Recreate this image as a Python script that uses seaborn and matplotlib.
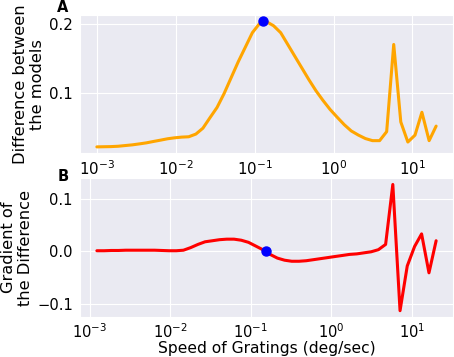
import numpy as np
import pandas as pd
import matplotlib
matplotlib.use('Agg')
import matplotlib.pyplot as plt
import seaborn as sns

# speeds of the gratings (deg/sec), log spaced
speeds = [0.00100, 0.00123, 0.00151, 0.00186, 0.00228, 0.00281, 0.00345, 0.00424,
          0.00521, 0.00640, 0.00787, 0.00968, 0.0119, 0.0146, 0.0180, 0.0221,
          0.0271, 0.0334, 0.0410, 0.0504, 0.0620, 0.0762, 0.0936, 0.115,
          0.141, 0.174, 0.214, 0.263, 0.323, 0.397, 0.488, 0.600,
          0.737, 0.906, 1.11, 1.37, 1.68, 2.07, 2.54, 3.12,
          3.84, 4.72, 5.80, 7.13, 8.76, 10.8, 13.2, 16.3, 20.0]

difference = [0.0220, 0.0222, 0.0224, 0.0229, 0.0239, 0.0249, 0.0263, 0.0278,
              0.0298, 0.0317, 0.0337, 0.0351, 0.0361, 0.0366, 0.0405, 0.0490,
              0.0640, 0.0790, 0.0990, 0.1220, 0.1450, 0.1660, 0.1870, 0.2000,
              0.2030, 0.1970, 0.1870, 0.1700, 0.1530, 0.1360, 0.1190, 0.1030,
              0.0890, 0.0760, 0.0650, 0.0540, 0.0450, 0.0390, 0.0340, 0.0310,
              0.0310, 0.0440, 0.1700, 0.0580, 0.0290, 0.0390, 0.0720, 0.0310, 0.0520]

# gradient of the difference, at speeds[1:]
gradient = [0.001, 0.001, 0.0015, 0.0015, 0.002, 0.002, 0.002, 0.002,
            0.002, 0.0015, 0.001, 0.001, 0.002, 0.007, 0.013, 0.018,
            0.020, 0.022, 0.023, 0.023, 0.021, 0.017, 0.010, 0.003,
            -0.006, -0.013, -0.017, -0.019, -0.019, -0.018, -0.016, -0.014,
            -0.012, -0.010, -0.008, -0.006, -0.005, -0.003, -0.001, 0.003,
            0.013, 0.127, -0.113, -0.028, 0.009, 0.033, -0.041, 0.020]

peak_speed, peak_value = 0.129, 0.2035
zero_speed, zero_value = 0.154, 0.0

df_diff = pd.DataFrame({'speed': speeds, 'diff': difference})
df_grad = pd.DataFrame({'speed': speeds[1:], 'grad': gradient})

sns.set_style('darkgrid')
plt.rcParams['font.family'] = ['DejaVu Sans']
plt.rcParams['text.color'] = 'black'
plt.rcParams['axes.labelcolor'] = 'black'
plt.rcParams['xtick.color'] = 'black'
plt.rcParams['ytick.color'] = 'black'

fig = plt.figure(figsize=(4.54, 3.57), dpi=100)
ax1 = fig.add_axes([0.176, 0.571, 0.822, 0.387])
ax2 = fig.add_axes([0.176, 0.112, 0.822, 0.389])

# panel A
sns.lineplot(data=df_diff, x='speed', y='diff', color='orange', lw=2.2, ax=ax1)
ax1.plot([peak_speed], [peak_value], 'o', color='blue', ms=6.5, zorder=5)
ax1.set_xscale('log')
ax1.set_yticks([0.1, 0.2])
ax1.set_xlabel('')
ax1.set_ylabel('Difference between\nthe models', fontsize=11.7, labelpad=3)
ax1.tick_params(labelsize=10.8, pad=1.5)
ax1.tick_params(axis='x', pad=1)

# panel B
sns.lineplot(data=df_grad, x='speed', y='grad', color='red', lw=2.2, ax=ax2)
ax2.plot([zero_speed], [zero_value], 'o', color='blue', ms=6.5, zorder=5)
ax2.set_xscale('log')
ax2.set_yticks([-0.1, 0.0, 0.1])
ax2.set_xlabel('Speed of Gratings (deg/sec)', fontsize=11.2, va='center')
ax2.xaxis.set_label_coords(0.5, -0.228)
ax2.set_ylabel('Gradient of\nthe Difference', fontsize=11.7, labelpad=3)
ax2.tick_params(labelsize=10.6, pad=1.5)
ax2.tick_params(axis='x', pad=0.5)

fig.text(0.139, 0.978, 'A', fontsize=10.5, fontweight='bold', ha='center', va='center')
fig.text(0.139, 0.507, 'B', fontsize=10.5, fontweight='bold', ha='center', va='center')

fig.savefig('out.png', dpi=100)
